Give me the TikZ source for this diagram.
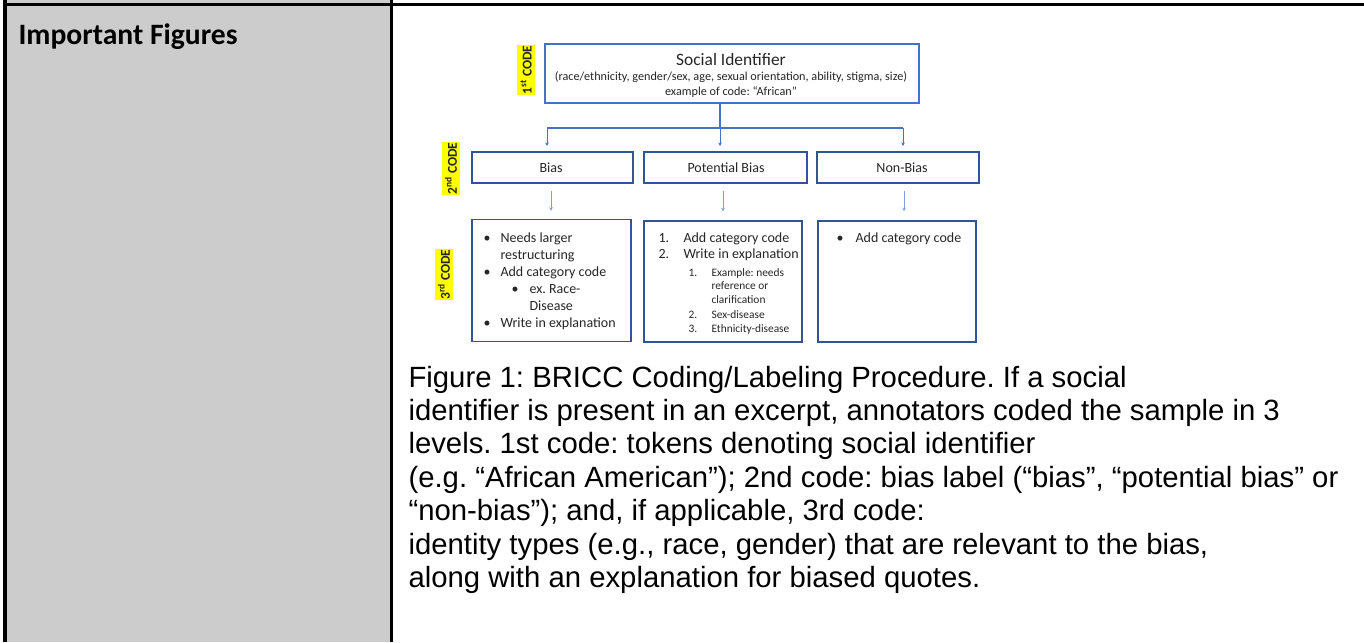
\documentclass[tikz,border=0pt]{standalone}
\usepackage{fontspec}
\setmainfont{Liberation Sans}
\newfontfamily\carl{Carlito}
\usetikzlibrary{arrows.meta}
\definecolor{cellgray}{HTML}{CCCCCC}
\definecolor{socblue}{HTML}{4472C4}
\definecolor{boxblue}{HTML}{2F5597}
\definecolor{lineblue}{HTML}{4472C4}
\definecolor{faintblue}{HTML}{7F9FD6}
\definecolor{txt}{HTML}{262626}
\definecolor{hl}{HTML}{FFFF00}
\tikzset{
  sbox/.style={draw=socblue, line width=1.6pt, inner sep=0pt, fill=white},
  fbox/.style={draw=boxblue, line width=1.5pt, inner sep=0pt, fill=white},
  conn/.style={draw=lineblue, line width=1.3pt},
  arr/.style={draw=lineblue, line width=0.9pt, -{Stealth[length=3.5pt,width=3.5pt]}},
  farr/.style={draw=faintblue, line width=0.7pt, -{Stealth[length=3.5pt,width=3.5pt]}},
  codelbl/.style={fill=hl, rotate=90, text=txt, font=\carl\bfseries\fontsize{13.5}{13.5}\selectfont, inner sep=0.5pt, minimum width=50pt, minimum height=18pt},
  ttl/.style={anchor=base, text=txt, font=\carl\fontsize{17.4}{18}\selectfont},
  subtxt/.style={anchor=base, text=txt, font=\carl\fontsize{12.2}{13}\selectfont},
  lvl/.style={anchor=base, text=txt, font=\carl\fontsize{14}{15}\selectfont},
  itm/.style={anchor=base west, text=txt, font=\carl\fontsize{14}{15}\selectfont},
  sitm/.style={anchor=base west, text=txt, font=\carl\fontsize{11.4}{12}\selectfont},
  captxt/.style={anchor=base west, text=black, font=\fontsize{29.3}{33}\selectfont},
  headtxt/.style={anchor=base west, text=black, font=\carl\bfseries\fontsize{29.6}{33}\selectfont}
}
\frenchspacing
\begin{document}
\begin{tikzpicture}[x=1pt,y=-1pt]
\useasboundingbox (0,0) rectangle (1364,642);
\fill[white] (0,0) rectangle (1364,642);
% table cells
\fill[cellgray] (6,0) rectangle (390,642);
\draw[black,line width=2.6pt] (3,4.5) -- (1364,4.5);
\draw[black,line width=3.2pt] (5,0) -- (5,642);
\draw[black,line width=3pt] (391.5,0) -- (391.5,642);
\node[headtxt] (hdr) at (15,45) {Important Figures};

% flowchart
\node[codelbl] (c1) at (526,70) {1\textsuperscript{st} CODE};
\node[codelbl] (c2) at (451,168.5) {2\textsuperscript{nd} CODE};
\node[codelbl] (c3) at (444,274.5) {3\textsuperscript{rd} CODE};

\node[sbox, minimum width=374pt, minimum height=59pt] (soc) at (732,73.5) {};
\node[ttl] (soct) at (731,65) {Social Identifier};
\node[subtxt] (socs) at (731,80.5) {(race/ethnicity, gender/sex, age, sexual orientation, ability, stigma, size)};
\node[subtxt] (soce) at (731,95) {example of code: “African”};

\node[fbox, minimum width=161pt, minimum height=31pt] (bias) at (552.5,167.5) {};
\node[fbox, minimum width=163pt, minimum height=31pt] (pot) at (725.5,167.5) {};
\node[fbox, minimum width=162pt, minimum height=31pt] (non) at (898,167.5) {};
\node[lvl] (biast) at (551,172) {Bias};
\node[lvl] (pott) at (726,172) {Potential Bias};
\node[lvl] (nont) at (902,172) {Non-Bias};

\node[fbox, minimum width=159pt, minimum height=122pt] (ra) at (551.5,280.5) {};
\node[fbox, minimum width=158pt, minimum height=121pt] (rb) at (723,281.5) {};
\node[fbox, minimum width=158pt, minimum height=121pt] (rc) at (897,281.5) {};

% connectors
\coordinate (jm) at (720,128);
\coordinate (jl) at (547,128);
\coordinate (jr) at (903,128);
\coordinate (tl) at (547,146);
\coordinate (tm) at (720,146);
\coordinate (tr) at (903,146);
\draw[conn] ([xshift=-12pt]soc.south) -- (jm);
\draw[conn] (jl) -- (jr);
\draw[arr] (jl) -- (tl);
\draw[arr] (jm) -- (tm);
\draw[arr] (jr) -- (tr);
\draw[farr] ([xshift=-1.5pt,yshift=-7pt]bias.south) -- ([xshift=-0.5pt,yshift=8pt]ra.north);
\draw[farr] ([xshift=-2.5pt,yshift=-7pt]pot.south) -- ([yshift=9pt]rb.north);
\draw[farr] ([xshift=6pt,yshift=-7pt]non.south) -- ([xshift=7pt,yshift=9pt]rc.north);

% third row, left
\node[itm] (a1b) at (480,242) {•};
\node[itm] (a1) at (497,242) {Needs larger};
\node[itm] (a2) at (497,259) {restructuring};
\node[itm] (a3b) at (480,276) {•};
\node[itm] (a3) at (497,276) {Add category code};
\node[itm] (a4b) at (508,293) {•};
\node[itm] (a4) at (526,293) {ex. Race-};
\node[itm] (a5) at (526,310) {Disease};
\node[itm] (a6b) at (480,327) {•};
\node[itm] (a6) at (497,327) {Write in explanation};

% third row, middle
\node[itm] (b1n) at (655,242) {1.};
\node[itm] (b1) at (680,242) {Add category code};
\node[itm] (b2n) at (655,258) {2.};
\node[itm] (b2) at (680,258) {Write in explanation};
\node[sitm] (b3n) at (685,276) {1.};
\node[sitm] (b3) at (708,276) {Example: needs};
\node[sitm] (b4) at (708,289) {reference or};
\node[sitm] (b5) at (708,303) {clarification};
\node[sitm] (b6n) at (685,318) {2.};
\node[sitm] (b6) at (708,318) {Sex-disease};
\node[sitm] (b7n) at (685,332) {3.};
\node[sitm] (b7) at (708,332) {Ethnicity-disease};

% third row, right
\node[itm] (rcb) at (833,242) {•};
\node[itm] (rc1) at (852,242) {Add category code};

% caption
\node[captxt] (l1) at (405,387) {Figure 1: BRICC Coding/Labeling Procedure. If a social};
\node[captxt] (l2) at (405,420.4) {identifier is present in an excerpt, annotators coded the sample in 3};
\node[captxt] (l3) at (405,453.8) {levels. 1st code: tokens denoting social identifier};
\node[captxt] (l4) at (405,487.2) {(e.g. “African American”); 2nd code: bias label (“bias”, “potential bias” or};
\node[captxt] (l5) at (405,520.6) {“non-bias”); and, if applicable, 3rd code:};
\node[captxt] (l6) at (405,554) {identity types (e.g., race, gender) that are relevant to the bias,};
\node[captxt] (l7) at (405,587.4) {along with an explanation for biased quotes.};
\end{tikzpicture}
\end{document}
